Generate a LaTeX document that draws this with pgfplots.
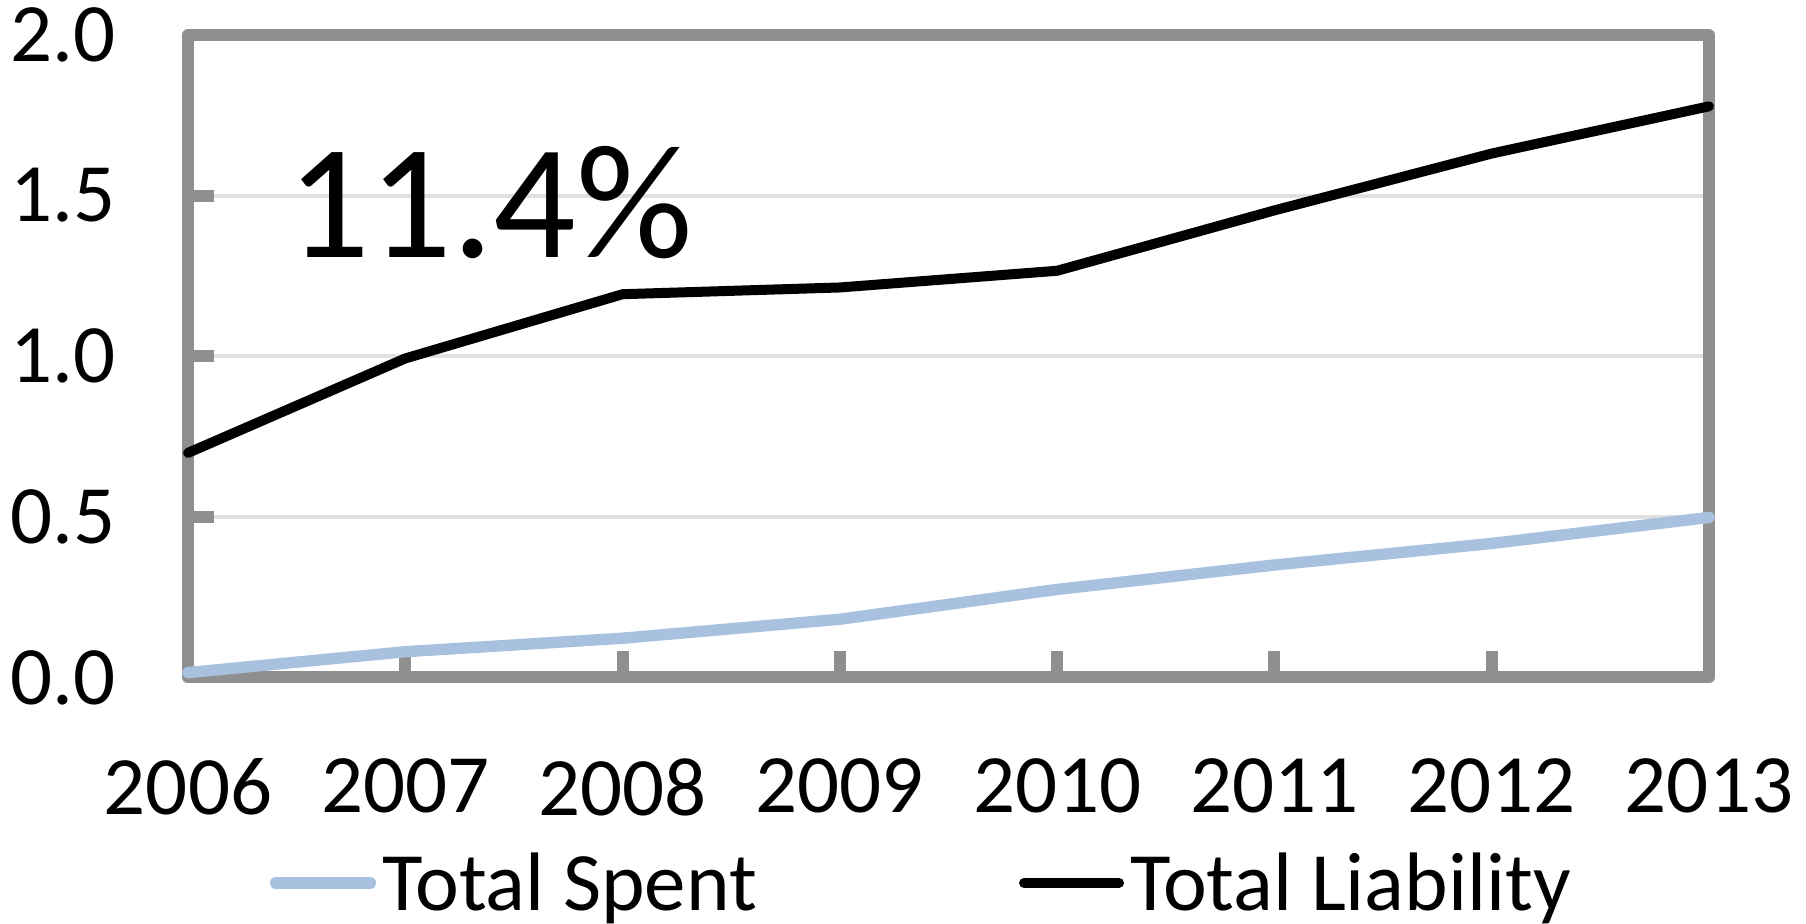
\documentclass[border=0pt]{standalone}
\usepackage{pgfplots}
\pgfplotsset{compat=1.18}
\usepackage{fontspec}
\setmainfont{Carlito}
\definecolor{framegray}{RGB}{143,143,143}
\definecolor{gridgray}{RGB}{224,224,224}
\definecolor{spentblue}{RGB}{167,193,223}

\begin{document}
\begin{tikzpicture}
\useasboundingbox (-94pt,-122.8pt) rectangle (809pt,338.7pt);
\begin{axis}[
  at={(0pt,0pt)}, anchor=south west,
  scale only axis, width=760.5pt, height=321.2pt,
  xmin=2006, xmax=2013, ymin=0, ymax=2,
  clip=false,
  axis line style={draw=framegray, line width=6pt, line join=round},
  xtick={2006,2007,2008,2009,2010,2011,2012,2013},
  xticklabels={2006,2007,2008,2009,2010,2011,2012,2013},
  ytick={0,0.5,1,1.5,2},
  yticklabels={0.0,0.5,1.0,1.5,2.0},
  tick align=inside,
  xtick pos=bottom, ytick pos=left,
  major tick length=13pt,
  major tick style={draw=framegray, line width=6pt},
  ymajorgrids,
  major grid style={draw=gridgray, line width=2pt},
  tick label style={font=\fontsize{41.5pt}{49pt}\selectfont, inner sep=0pt},
  xticklabel style={anchor=north, yshift=-40.3pt},
  yticklabel style={anchor=east, xshift=-36pt},
  legend columns=2,
  legend style={draw=none, fill=none, inner sep=0pt, at={(axis description cs:0.0535,-0.32)}, anchor=west,
    font=\fontsize{41.5pt}{49pt}\selectfont,
    /tikz/every odd column/.append style={column sep=3pt},
    /tikz/every even column/.append style={column sep=131pt},
    nodes={inner sep=0pt}},
  legend image code/.code={\draw[#1] (0pt,0pt) -- (47.5pt,0pt);},
]
\addplot[spentblue, line width=5.7pt, line cap=round, line join=round]
  coordinates {(2006,0.015)(2007,0.080)(2008,0.122)(2009,0.181)(2010,0.274)(2011,0.350)(2012,0.417)(2013,0.498)};
\addlegendentry{Total Spent}
\addplot[black, line width=5pt, line cap=round, line join=round]
  coordinates {(2006,0.699)(2007,0.993)(2008,1.193)(2009,1.214)(2010,1.266)(2011,1.454)(2012,1.631)(2013,1.778)};
\addlegendentry{Total Liability}
\node[anchor=base, inner sep=0pt, font=\fontsize{81.5pt}{92pt}\selectfont] at (axis cs:2007.39,1.307) {11.4\%};
\end{axis}
\end{tikzpicture}
\end{document}
